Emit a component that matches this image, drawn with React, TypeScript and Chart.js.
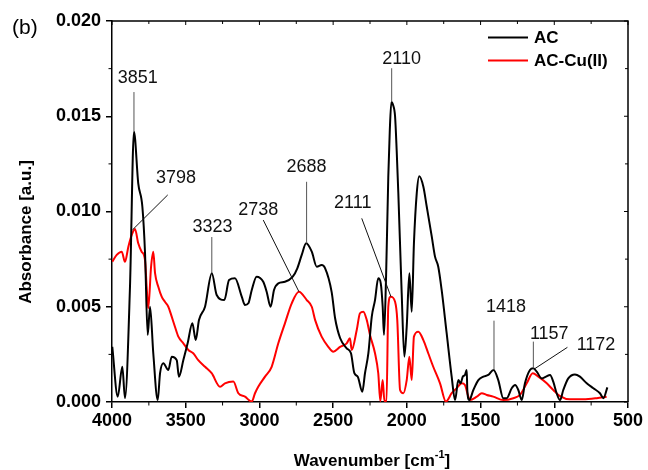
import React, { useEffect, useRef } from 'react';
import { Chart, registerables } from 'chart.js';

Chart.register(...registerables);

// ---------- data ----------
const seriesNames = ['AC', 'AC-Cu(II)'];
const seriesColors = ['#000000', '#ff0000'];

const acWavenumbers = [3998, 3961, 3930, 3912, 3878, 3851, 3822, 3794, 3776, 3758, 3742, 3720, 3690, 3674, 3652, 3618, 3595, 3561, 3546, 3516, 3487, 3455, 3432, 3410, 3369, 3323, 3290, 3238, 3206, 3166, 3120, 3098, 3075, 3052, 3019, 2974, 2951, 2924, 2901, 2872, 2827, 2774, 2743, 2713, 2683, 2645, 2611, 2578, 2555, 2510, 2487, 2453, 2408, 2379, 2356, 2333, 2302, 2284, 2261, 2238, 2216, 2194, 2177, 2164, 2155, 2141, 2126, 2116, 2105, 2094, 2080, 2069, 2058, 2035, 2017, 2001, 1983, 1967, 1952, 1933, 1916, 1888, 1865, 1831, 1809, 1787, 1764, 1730, 1696, 1673, 1651, 1635, 1621, 1606, 1594, 1590, 1577, 1549, 1515, 1481, 1448, 1412, 1380, 1346, 1323, 1289, 1266, 1244, 1221, 1199, 1165, 1142, 1119, 1085, 1056, 1029, 1007, 984, 961, 939, 905, 860, 826, 780, 735, 690, 667, 640];
const acValues = [0.0029, 0.00028, 0.00185, 0.00021, 0.00605, 0.01419, 0.01148, 0.01025, 0.00782, 0.00352, 0.005, 0.00256, 0.0001, 0.00152, 0.00203, 0.00168, 0.00238, 0.0022, 0.00133, 0.0022, 0.00308, 0.00413, 0.00325, 0.0043, 0.005, 0.00676, 0.00562, 0.00535, 0.0064, 0.00649, 0.00553, 0.00509, 0.00518, 0.00588, 0.00658, 0.00631, 0.00579, 0.005, 0.00588, 0.00623, 0.00631, 0.00658, 0.00702, 0.00772, 0.00833, 0.00789, 0.0071, 0.00719, 0.00703, 0.00577, 0.00441, 0.00336, 0.00282, 0.00256, 0.00151, 0.00133, 0.00054, 0.00151, 0.00256, 0.00448, 0.00535, 0.00649, 0.00623, 0.005, 0.00352, 0.00658, 0.0118, 0.0142, 0.01575, 0.0156, 0.015, 0.0132, 0.011, 0.00571, 0.00238, 0.00395, 0.00676, 0.00474, 0.00833, 0.01095, 0.01185, 0.0113, 0.01025, 0.00868, 0.00763, 0.0071, 0.00588, 0.00361, 0.00133, 0.0001, 0.00115, 0.00098, 0.00133, 0.00142, 0.00168, 0.00063, 0.0001, 0.00063, 0.00115, 0.00133, 0.00142, 0.00168, 0.00115, 0.0002, 0.0002, 0.00072, 0.00089, 0.00063, 0.0001, 0.00098, 0.00168, 0.00177, 0.00159, 0.00124, 0.00133, 0.00142, 0.00107, 0.00046, 0.0001, 0.00063, 0.00124, 0.00145, 0.00133, 0.00098, 0.00072, 0.00046, 0.0002, 0.00077];

const cuWavenumbers = [3998, 3968, 3934, 3912, 3889, 3866, 3844, 3822, 3799, 3776, 3765, 3754, 3735, 3720, 3708, 3686, 3663, 3641, 3618, 3595, 3573, 3550, 3516, 3482, 3449, 3415, 3369, 3324, 3267, 3234, 3177, 3143, 3098, 3052, 3030, 3008, 2962, 2917, 2872, 2827, 2781, 2732, 2679, 2645, 2622, 2578, 2533, 2499, 2453, 2408, 2386, 2374, 2340, 2318, 2295, 2272, 2250, 2216, 2194, 2180, 2164, 2152, 2138, 2126, 2110, 2080, 2065, 2046, 2024, 2001, 1983, 1967, 1952, 1922, 1888, 1855, 1821, 1775, 1735, 1696, 1662, 1628, 1606, 1583, 1572, 1526, 1492, 1458, 1414, 1346, 1278, 1233, 1187, 1146, 1108, 1051, 1007, 961, 893, 803, 712, 645];
const cuValues = [0.00736, 0.00772, 0.00789, 0.00736, 0.00815, 0.00877, 0.00908, 0.00833, 0.00789, 0.00745, 0.00605, 0.00492, 0.0071, 0.00789, 0.00676, 0.00605, 0.00553, 0.00526, 0.005, 0.00448, 0.00395, 0.00343, 0.00308, 0.00273, 0.00256, 0.0022, 0.00185, 0.00151, 0.0008, 0.00098, 0.00107, 0.00046, 0.00028, 0.00002, 0.00046, 0.0008, 0.00133, 0.00185, 0.00308, 0.00413, 0.00518, 0.00579, 0.00535, 0.005, 0.0043, 0.00343, 0.0029, 0.00264, 0.00289, 0.00308, 0.00334, 0.00273, 0.00378, 0.00466, 0.00474, 0.0043, 0.00352, 0.00256, 0.00151, 0.00005, 0.00115, 0.00005, 0.00005, 0.005, 0.00553, 0.00526, 0.0043, 0.00063, 0.00046, 0.00115, 0.00238, 0.00115, 0.00343, 0.00369, 0.00325, 0.00256, 0.00185, 0.00098, 0.00002, 0.00046, 0.00072, 0.00098, 0.00089, 0.00028, 0.0001, 0.00028, 0.00046, 0.00037, 0.00028, 0.0001, 0.0002, 0.00037, 0.00098, 0.00151, 0.00133, 0.00098, 0.00063, 0.00031, 0.00014, 0.00014, 0.0002, 0.00028];

const xTickValues = [4000, 3500, 3000, 2500, 2000, 1500, 1000, 500];
const yTickValues = [0, 0.005, 0.01, 0.015, 0.02];
const xMinorTicks = [3750, 3250, 2750, 2250, 1750, 1250, 750];
const yMinorTicks = [0.0025, 0.0075, 0.0125, 0.0175];

// peak annotations: label, text position, leader line start/end (wavenumber, absorbance)
const peakLabels = ['3851', '3798', '3323', '2688', '2738', '2110', '2111', '1418', '1157', '1172'];
const peakTextW = [3826, 3566, 3319, 2680, 3008, 2035, 2367, 1328, 1034, 717];
const peakTextV = [0.01701, 0.01176, 0.00919, 0.01232, 0.01006, 0.01799, 0.01043, 0.005, 0.00357, 0.00299];
const peakLineW1 = [3851, 3622, 3323, 2680, 2974, 2103, 2306, 1409, 1142, 911];
const peakLineV1 = [0.01627, 0.01087, 0.00866, 0.01156, 0.00955, 0.01752, 0.00964, 0.00427, 0.00317, 0.00287];
const peakLineW2 = [3851, 3862, 3323, 2680, 2732, 2103, 2108, 1409, 1142, 1138];
const peakLineV2 = [0.01422, 0.00903, 0.00676, 0.00833, 0.00579, 0.01576, 0.00553, 0.00168, 0.00177, 0.00172];
const peakLineVertical = [true, false, true, true, false, true, false, true, true, false];

const FONT = '"Liberation Sans", Arial, Helvetica, sans-serif';

const decorPlugin = {
  id: 'decor',
  afterDraw(chart: any) {
    const { ctx, chartArea: a, scales } = chart;
    const x = scales.x;
    const y = scales.y;
    ctx.save();

    // frame top & right
    ctx.strokeStyle = '#000';
    ctx.lineWidth = 1.5;
    ctx.beginPath();
    ctx.moveTo(a.left, a.top);
    ctx.lineTo(a.right, a.top);
    ctx.lineTo(a.right, a.bottom);
    ctx.stroke();

    // inward ticks on top & right, minor ticks outside on bottom & left
    ctx.lineWidth = 1;
    xTickValues.forEach((w) => {
      const px = x.getPixelForValue(w);
      ctx.beginPath();
      ctx.moveTo(px, a.top);
      ctx.lineTo(px, a.top + 4);
      ctx.stroke();
    });
    xMinorTicks.forEach((w) => {
      const px = x.getPixelForValue(w);
      ctx.beginPath();
      ctx.moveTo(px, a.top);
      ctx.lineTo(px, a.top + 3);
      ctx.moveTo(px, a.bottom);
      ctx.lineTo(px, a.bottom + 3.5);
      ctx.stroke();
    });
    yTickValues.forEach((v) => {
      const py = y.getPixelForValue(v);
      ctx.beginPath();
      ctx.moveTo(a.right, py);
      ctx.lineTo(a.right - 4, py);
      ctx.stroke();
    });
    yMinorTicks.forEach((v) => {
      const py = y.getPixelForValue(v);
      ctx.beginPath();
      ctx.moveTo(a.right, py);
      ctx.lineTo(a.right - 3, py);
      ctx.moveTo(a.left, py);
      ctx.lineTo(a.left - 3.5, py);
      ctx.stroke();
    });

    // peak annotations
    peakLabels.forEach((lab, i) => {
      const x1 = x.getPixelForValue(peakLineW1[i]);
      const y1 = y.getPixelForValue(peakLineV1[i]);
      const x2 = x.getPixelForValue(peakLineW2[i]);
      const y2 = y.getPixelForValue(peakLineV2[i]);
      ctx.strokeStyle = peakLineVertical[i] ? '#555' : '#111';
      ctx.lineWidth = 1;
      ctx.beginPath();
      ctx.moveTo(x1, y1);
      ctx.lineTo(x2, y2);
      ctx.stroke();
      ctx.fillStyle = '#111';
      ctx.font = `18px ${FONT}`;
      ctx.textAlign = 'center';
      ctx.textBaseline = 'middle';
      ctx.fillText(lab, x.getPixelForValue(peakTextW[i]), y.getPixelForValue(peakTextV[i]));
    });

    // legend
    const lx1 = a.right - 140;
    const lx2 = a.right - 100;
    const ltx = a.right - 94;
    seriesNames.forEach((name, i) => {
      const ly = a.top + 16.5 + i * 23;
      ctx.strokeStyle = seriesColors[i];
      ctx.lineWidth = 2;
      ctx.beginPath();
      ctx.moveTo(lx1, ly);
      ctx.lineTo(lx2, ly);
      ctx.stroke();
      ctx.fillStyle = '#000';
      ctx.font = `bold 17px ${FONT}`;
      ctx.textAlign = 'left';
      ctx.textBaseline = 'middle';
      ctx.fillText(name, ltx, ly + 1);
    });

    // panel letter
    ctx.fillStyle = '#000';
    ctx.font = `21px ${FONT}`;
    ctx.textAlign = 'left';
    ctx.textBaseline = 'alphabetic';
    ctx.fillText('(b)', 12, 34);

    // y title
    ctx.save();
    ctx.translate(31, 232);
    ctx.rotate(-Math.PI / 2);
    ctx.font = `bold 17px ${FONT}`;
    ctx.textAlign = 'center';
    ctx.textBaseline = 'alphabetic';
    ctx.fillText('Absorbance [a.u.]', 0, 0);
    ctx.restore();

    // x title with superscript
    const main = 'Wavenumber [cm';
    const sup = '-1';
    const tail = ']';
    ctx.font = `bold 17px ${FONT}`;
    const wMain = ctx.measureText(main).width;
    const wTail = ctx.measureText(tail).width;
    ctx.font = `bold 11px ${FONT}`;
    const wSup = ctx.measureText(sup).width;
    const total = wMain + wSup + wTail;
    const cx = (a.left + a.right) / 2 + 2;
    let sx = cx - total / 2;
    const by = 466;
    ctx.textAlign = 'left';
    ctx.font = `bold 17px ${FONT}`;
    ctx.fillText(main, sx, by);
    sx += wMain;
    ctx.font = `bold 11px ${FONT}`;
    ctx.fillText(sup, sx, by - 8);
    sx += wSup;
    ctx.font = `bold 17px ${FONT}`;
    ctx.fillText(tail, sx, by);

    ctx.restore();
  },
};

export default function App() {
  const canvasRef = useRef<HTMLCanvasElement | null>(null);

  useEffect(() => {
    const canvas = canvasRef.current;
    if (!canvas) return;
    const acData = acWavenumbers.map((w, i) => ({ x: w, y: acValues[i] }));
    const cuData = cuWavenumbers.map((w, i) => ({ x: w, y: cuValues[i] }));
    const tickFont = { family: FONT, size: 18, weight: 'bold' as const };

    const chart = new Chart(canvas, {
      type: 'line',
      data: {
        datasets: [
          {
            label: seriesNames[0],
            data: acData,
            borderColor: seriesColors[0],
            borderWidth: 2,
            pointRadius: 0,
            fill: false,
            cubicInterpolationMode: 'monotone',
          },
          {
            label: seriesNames[1],
            data: cuData,
            borderColor: seriesColors[1],
            borderWidth: 2,
            pointRadius: 0,
            fill: false,
            cubicInterpolationMode: 'monotone',
          },
        ],
      },
      options: {
        responsive: false,
        animation: false,
        layout: { padding: { left: 0, right: 20, top: 21, bottom: 0 } },
        plugins: {
          legend: { display: false },
          tooltip: { enabled: false },
        },
        scales: {
          x: {
            type: 'linear',
            reverse: true,
            min: 500,
            max: 4000,
            afterBuildTicks: (s: any) => {
              s.ticks = xTickValues.map((v) => ({ value: v }));
            },
            afterFit: (s: any) => {
              s.height = 68;
            },
            ticks: {
              font: tickFont,
              color: '#000',
              padding: 2,
              maxRotation: 0,
              autoSkip: false,
              callback: (v: any) => String(v),
            },
            grid: {
              drawOnChartArea: false,
              drawTicks: true,
              tickLength: 6,
              color: '#000',
              lineWidth: 1.5,
            },
            border: { display: true, color: '#000', width: 1.5 },
          },
          y: {
            type: 'linear',
            min: 0,
            max: 0.02,
            afterBuildTicks: (s: any) => {
              s.ticks = yTickValues.map((v) => ({ value: v }));
            },
            afterFit: (s: any) => {
              s.width = 112;
            },
            ticks: {
              font: tickFont,
              color: '#000',
              padding: 5,
              callback: (v: any) => Number(v).toFixed(3),
            },
            grid: {
              drawOnChartArea: false,
              drawTicks: true,
              tickLength: 6,
              color: '#000',
              lineWidth: 1.5,
            },
            border: { display: true, color: '#000', width: 1.5 },
          },
        },
      },
      plugins: [decorPlugin],
    });

    return () => chart.destroy();
  }, []);

  return (
    <div style={{ position: 'absolute', left: 0, top: 0, width: 648, height: 470, background: '#fff' }}>
      <canvas ref={canvasRef} width={648} height={470} style={{ display: 'block' }} />
    </div>
  );
}
